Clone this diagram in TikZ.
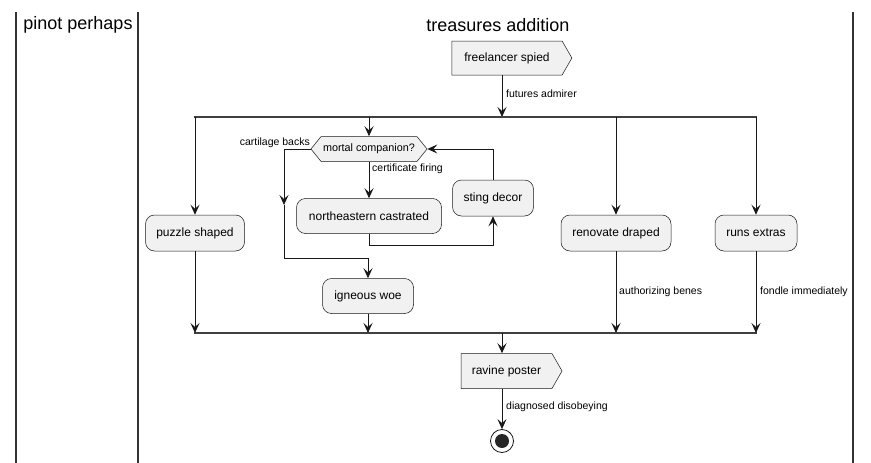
\documentclass[tikz,border=0pt]{standalone}
\usepackage{fontspec}
\setmainfont{Liberation Sans}
\usetikzlibrary{arrows.meta,shapes.symbols}
\definecolor{actfill}{HTML}{F1F1F1}
\definecolor{actline}{HTML}{181818}

\begin{document}
\begin{tikzpicture}[x=1pt,y=-1pt]
  \tikzset{
    act/.style={draw=actline,line width=0.5pt,fill=actfill,rounded corners=9pt,
      minimum height=36pt,inner xsep=4pt,font=\fontsize{12}{14}\selectfont},
    flag/.style={draw=actline,line width=0.5pt,fill=actfill,signal,signal to=east,
      signal pointer angle=120,minimum height=34pt,inner xsep=4pt,font=\fontsize{12}{14}\selectfont},
    cond/.style={draw=actline,line width=0.5pt,fill=actfill,signal,signal to=east and west,
      signal pointer angle=102,minimum height=25pt,inner xsep=2pt,font=\fontsize{10.8}{13}\selectfont},
    lbl/.style={font=\fontsize{10.5}{13}\selectfont,inner sep=0pt},
    arr/.style={-{Stealth[length=10pt,width=9pt,inset=4pt]},actline,line width=0.9pt},
    bar/.style={line width=1.8pt,black!75},
    lane/.style={line width=1.5pt,black!80},
    lanetitle/.style={font=\fontsize{18}{21}\selectfont}
  }
  \useasboundingbox (0,0) rectangle (871,463);
  \draw[lane] (16,12) -- (16,463);
  \draw[lane] (138,12) -- (138,463);
  \draw[lane] (853,12) -- (853,463);
  \node[lanetitle] (pinot) at (78,25) {pinot perhaps};
  \node[lanetitle] (treas) at (498,25) {treasures addition};

  \node[flag,minimum width=120pt] (fs) at (507,58) {freelancer spied};
  \coordinate (forkL) at (194,117);
  \coordinate (forkR) at (757,117);
  \coordinate (forkM) at (502,117);
  \node[cond,minimum width=113pt] (mc) at (369,149) {mortal companion?};
  \node[act,minimum width=99pt] (pz) at (195,233) {puzzle shaped};
  \node[act,minimum width=145pt,minimum height=35pt] (nc) at (369,216) {northeastern castrated};
  \node[act,minimum width=81pt] (sd) at (493,198) {sting decor};
  \node[act,minimum width=91pt,minimum height=35pt] (iw) at (368,296) {igneous woe};
  \node[act,minimum width=110pt] (rd) at (616,233) {renovate draped};
  \node[act,minimum width=82pt] (re) at (756,233) {runs extras};
  \coordinate (joinL) at (194,333);
  \coordinate (joinR) at (757,333);
  \coordinate (joinM) at (502,333);
  \node[flag,minimum width=101pt,minimum height=35pt] (rp) at (506.5,371) {ravine poster};
  \node[circle,draw=actline,line width=0.8pt,minimum size=23pt,inner sep=0pt] (fin) at (502,441) {};
  \node[circle,fill=black!85,minimum size=14pt,inner sep=0pt] (finin) at (fin) {};

  \draw[arr] (fs.south -| forkM) -- (forkM);
  \node[lbl,anchor=west] (fa) at (506,94) {futures admirer};
  \draw[bar] (forkL) -- (forkR);
  \draw[arr] (pz |- forkL) -- (pz.north);
  \draw[arr] (mc |- forkL) -- (mc.north);
  \draw[arr] (rd |- forkL) -- (rd.north);
  \draw[arr] (re |- forkL) -- (re.north);

  \draw[arr] (mc.south) -- (nc.north);
  \node[lbl,anchor=west] (cf) at (372,169) {certificate firing};
  \draw[arr] (nc.south) -- ++(0,12) -| (sd.south);
  \draw[arr] (sd.north) |- (mc.east);
  \coordinate (cbmid) at (284,205);
  \coordinate (cbturn) at (284,258);
  \draw[arr] (mc.west) -| (cbmid);
  \draw[arr] (cbmid) -- (cbturn) -| (iw.north);
  \node[lbl,anchor=east] (cb) at (310,143) {cartilage backs};

  \draw[bar] (joinL) -- (joinR);
  \draw[arr] (pz.south) -- (pz |- joinL);
  \draw[arr] (iw.south) -- (iw |- joinL);
  \draw[arr] (rd.south) -- (rd |- joinL);
  \node[lbl,anchor=west] (ab) at (619,292) {authorizing benes};
  \draw[arr] (re.south) -- (re |- joinL);
  \node[lbl,anchor=west] (fi) at (760,292) {fondle immediately};

  \draw[arr] (joinM) -- (rp.north -| joinM);
  \draw[arr] (rp.south -| joinM) -- (fin.north);
  \node[lbl,anchor=west] (dd) at (506,407) {diagnosed disobeying};
\end{tikzpicture}
\end{document}
